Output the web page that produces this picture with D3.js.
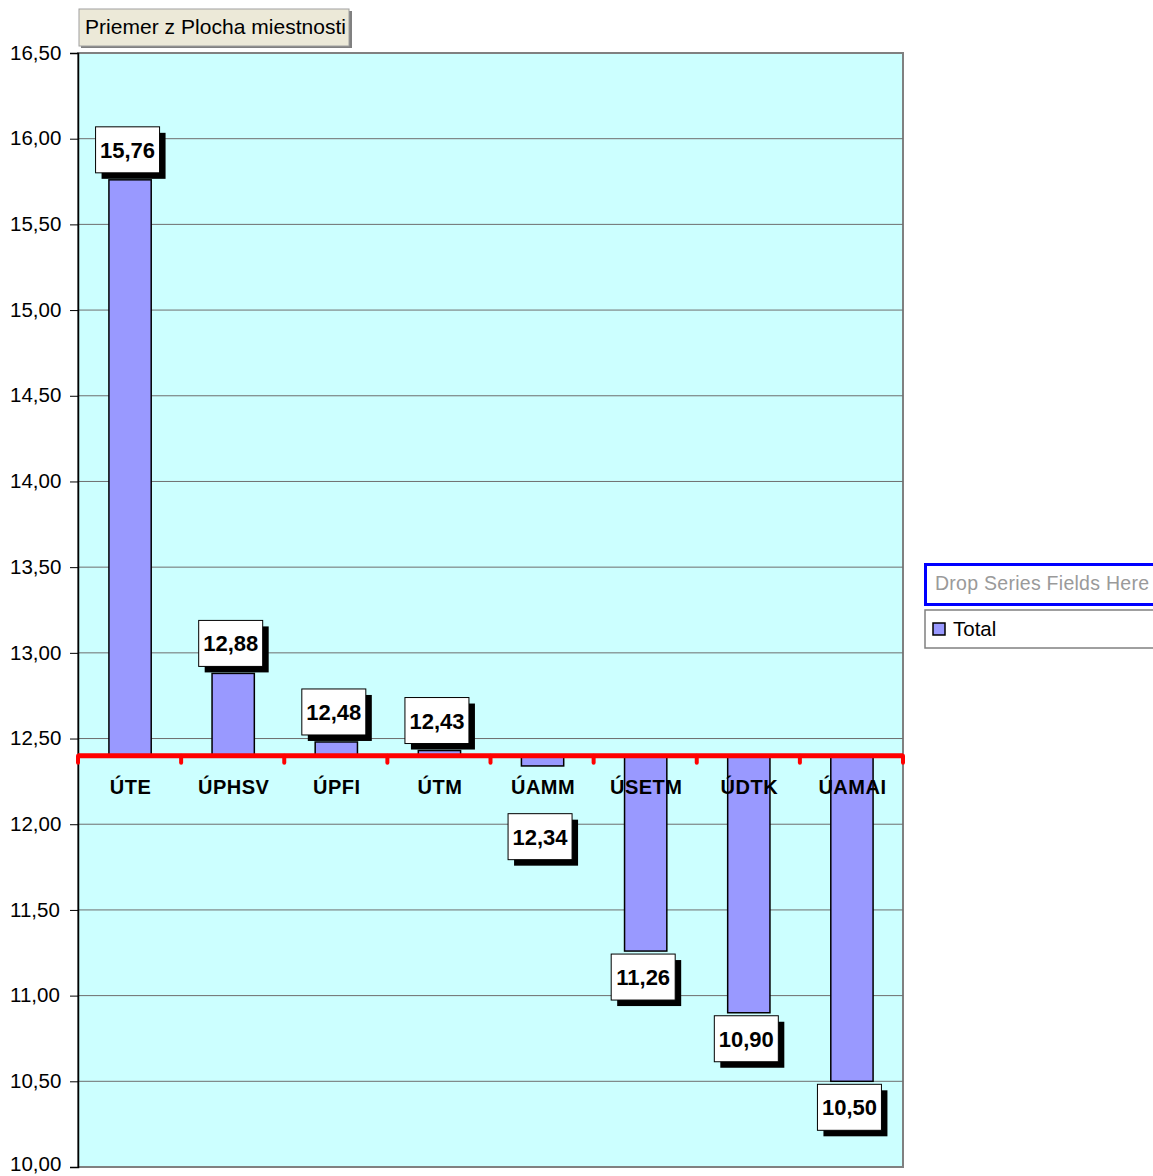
<!DOCTYPE html>
<html><head><meta charset="utf-8">
<script src="https://cdn.jsdelivr.net/npm/d3@7"></script>
<style>body{margin:0;background:#fff}svg{display:block;font-family:"Liberation Sans",Arial,sans-serif}</style>
</head><body><svg id="c" width="1153" height="1176"></svg>
<script>
const categories = ["ÚTE","ÚPHSV","ÚPFI","ÚTM","ÚAMM","ÚSETM","ÚDTK","ÚAMAI"];
const values = [15.76, 12.88, 12.48, 12.43, 12.34, 11.26, 10.90, 10.50];
const yTicks = [10.0,10.5,11.0,11.5,12.0,12.5,13.0,13.5,14.0,14.5,15.0,15.5,16.0,16.5];
const baseValue = 12.40;
const fieldButton = "Priemer z Plocha miestnosti";
const seriesDrop = "Drop Series Fields Here";
const seriesName = "Total";

const svg = d3.select("#c");
const L = 78, R = 903, T = 53, B = 1167;
const y = d3.scaleLinear().domain([10, 16.5]).range([B, T]);
const x = d3.scaleBand().domain(categories).range([L, R]).paddingInner(0).paddingOuter(0);
const fmt = v => d3.format(".2f")(v).replace(".", ",");

// plot area
svg.append("rect").attr("x", L).attr("y", T).attr("width", R - L).attr("height", B - T)
  .attr("fill", "#CCFFFF").attr("stroke", "#808080").attr("stroke-width", 2);

// gridlines
svg.append("g").selectAll("line").data(yTicks.filter(t => t > 10 && t < 16.5)).join("line")
  .attr("x1", L).attr("x2", R).attr("y1", d => y(d)).attr("y2", d => y(d))
  .attr("stroke", "#6e6e6e").attr("stroke-width", 1);

// y axis
const yAxis = d3.axisLeft(y).tickValues(yTicks).tickSize(8).tickFormat(fmt);
const ga = svg.append("g").attr("transform", `translate(${L},0)`).call(yAxis);
ga.select(".domain").attr("stroke", "#000").attr("stroke-width", 1.5);
ga.selectAll(".tick line").attr("stroke", "#000");
ga.selectAll(".tick text").attr("font-size", 20.5).attr("fill", "#000")
  .attr("font-family", "Liberation Sans, Arial, sans-serif")
  .attr("text-anchor", "start").attr("x", -68)
  .attr("dy", d => d === 10 ? "0.18em" : "0.3em");

// bars
const bw = x.bandwidth() * 0.41;
svg.append("g").selectAll("rect").data(values).join("rect")
  .attr("x", (d, i) => x(categories[i]) + x.bandwidth() / 2 - bw / 2 + 0.5)
  .attr("width", bw)
  .attr("y", d => Math.min(y(d), y(baseValue)))
  .attr("height", d => Math.abs(y(d) - y(baseValue)))
  .attr("fill", "#9999FF").attr("stroke", "#000").attr("stroke-width", 1.5);

// category axis (red)
const yb = y(baseValue);
svg.append("line").attr("x1", L).attr("x2", R).attr("y1", yb).attr("y2", yb)
  .attr("stroke", "#FF0000").attr("stroke-width", 5);
svg.append("g").selectAll("line").data(d3.range(categories.length + 1)).join("line")
  .attr("x1", i => L + i * x.step()).attr("x2", i => L + i * x.step())
  .attr("y1", yb).attr("y2", yb + 7)
  .attr("stroke", "#FF0000").attr("stroke-width", 4).attr("stroke-linecap", "round");
svg.append("g").selectAll("text").data(categories).join("text")
  .attr("x", d => x(d) + x.bandwidth() / 2 + 1).attr("y", yb + 38)
  .attr("text-anchor", "middle").attr("font-size", 20).attr("font-weight", "bold")
  .attr("letter-spacing", 0.5)
  .text(d => d);

// data labels
const bxW = 64, bxH = 46;
const lg = svg.append("g").selectAll("g").data(values).join("g")
  .attr("transform", (d, i) => {
    const cx = x(categories[i]) + x.bandwidth() / 2 - 2;
    let top;
    if (d >= baseValue) top = y(d) - 7 - bxH;
    else top = Math.max(y(d) + 3, yb + 58);
    return `translate(${cx - bxW / 2},${top})`;
  });
lg.append("rect").attr("x", 6).attr("y", 6).attr("width", bxW).attr("height", bxH).attr("fill", "#000");
lg.append("rect").attr("width", bxW).attr("height", bxH).attr("fill", "#fff").attr("stroke", "#000").attr("stroke-width", 1);
lg.append("text").attr("x", bxW / 2).attr("y", bxH / 2 + 8).attr("text-anchor", "middle")
  .attr("font-size", 22).attr("font-weight", "bold").text(d => fmt(d));

// field button
const fb = svg.append("g");
fb.append("rect").attr("x", 81).attr("y", 11).attr("width", 271).attr("height", 37).attr("fill", "#808080");
fb.append("rect").attr("x", 79).attr("y", 9).attr("width", 270).attr("height", 37)
  .attr("fill", "#ECE9D8").attr("stroke", "#a0a0a0").attr("stroke-width", 1);
fb.append("text").attr("x", 85).attr("y", 34).attr("font-size", 21).attr("fill", "#000")
  .attr("textLength", 261).attr("lengthAdjust", "spacing").text(fieldButton);

// legend
const lgd = svg.append("g");
lgd.append("rect").attr("x", 925.5).attr("y", 564.5).attr("width", 240).attr("height", 40)
  .attr("fill", "#fff").attr("stroke", "#0000FF").attr("stroke-width", 3);
lgd.append("text").attr("x", 935).attr("y", 590).attr("font-size", 19.5).attr("fill", "#9a9a9a")
  .attr("textLength", 214).attr("lengthAdjust", "spacing").text(seriesDrop);
lgd.append("rect").attr("x", 925).attr("y", 610).attr("width", 240).attr("height", 38)
  .attr("fill", "#fff").attr("stroke", "#808080").attr("stroke-width", 1.5);
lgd.append("rect").attr("x", 933).attr("y", 623).attr("width", 12).attr("height", 12)
  .attr("fill", "#9999FF").attr("stroke", "#000").attr("stroke-width", 1.5);
lgd.append("text").attr("x", 953).attr("y", 636).attr("font-size", 20.5).attr("fill", "#000").text(seriesName);
</script></body></html>
